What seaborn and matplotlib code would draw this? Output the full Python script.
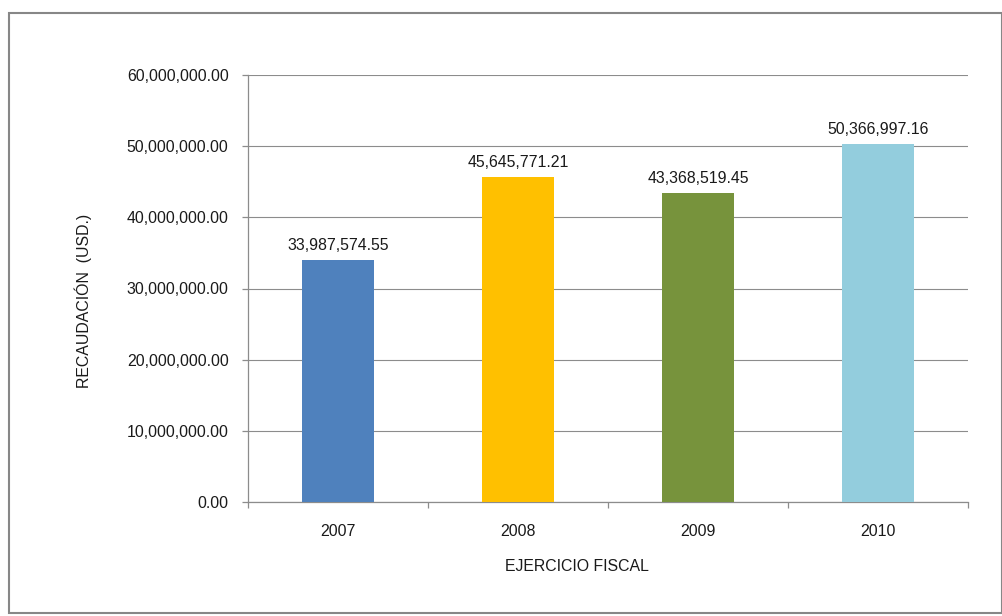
import matplotlib
matplotlib.use("Agg")
import matplotlib.pyplot as plt
from matplotlib.patches import Rectangle
from matplotlib.ticker import FuncFormatter, FixedLocator
import pandas as pd
import seaborn as sns

# Recaudación anual por ejercicio fiscal (USD)
years = ["2007", "2008", "2009", "2010"]
amounts = [33987574.55, 45645771.21, 43368519.45, 50366997.16]
bar_colors = ["#4F81BD", "#FFC000", "#77933C", "#93CDDD"]
y_ticks = [0, 10e6, 20e6, 30e6, 40e6, 50e6, 60e6]

df = pd.DataFrame({"anio": years, "monto": amounts})

sns.set_theme(style="white")
plt.rcParams["font.family"] = ["Liberation Sans", "DejaVu Sans"]
text_color = "#1a1a1a"
line_color = "#8c8c8c"
fs = 11.4

fig = plt.figure(figsize=(10.03, 6.16), dpi=100)
fig.patch.set_facecolor("white")

# outer chart frame
fig.patches.append(Rectangle((9 / 1003, 1 - 613 / 616), (1002 - 9) / 1003, (613 - 13) / 616,
                             transform=fig.transFigure, fill=False,
                             edgecolor="#878787", linewidth=1.5, zorder=0))

ax = fig.add_axes([248 / 1003, 1 - 502 / 616, 720 / 1003, 427 / 616])

sns.barplot(data=df, x="anio", y="monto", hue="anio", palette=bar_colors,
            width=0.4, legend=False, saturation=1, linewidth=0, ax=ax, zorder=3)

ax.set_ylim(0, 60e6)
ax.set_xlim(-0.5, 3.5)
ax.yaxis.set_major_locator(FixedLocator(y_ticks))
ax.yaxis.set_major_formatter(FuncFormatter(lambda v, p: f"{v:,.2f}"))
ax.grid(axis="y", color=line_color, linewidth=0.8, zorder=0)
ax.grid(axis="x", visible=False)

for side in ["top", "right"]:
    ax.spines[side].set_visible(False)
for side in ["left", "bottom"]:
    ax.spines[side].set_color(line_color)
    ax.spines[side].set_linewidth(0.9)

# tick marks sit on category boundaries; labels stay centred under the bars
ax.set_xticks([-0.5, 0.5, 1.5, 2.5, 3.5], minor=True)
ax.tick_params(axis="x", which="minor", length=4, width=0.9, color=line_color, bottom=True)
ax.tick_params(axis="x", which="major", length=0, pad=16, labelsize=fs, labelcolor=text_color)
ax.tick_params(axis="y", which="major", length=4.5, width=0.9, color=line_color, left=True,
               pad=9.5, labelsize=fs, labelcolor=text_color)

for container in ax.containers:
    ax.bar_label(container, labels=[f"{v:,.2f}" for v in container.datavalues],
                 padding=5, fontsize=fs, color=text_color)

ax.set_xlabel("EJERCICIO FISCAL", fontsize=fs, color=text_color)
ax.set_ylabel("RECAUDACIÓN  (USD.)", fontsize=fs, color=text_color)
ax.xaxis.set_label_coords(0.457, -0.152)
ax.xaxis.label.set_va("center")
ax.yaxis.set_label_coords(-0.229, 0.471)
ax.yaxis.label.set_va("center")

fig.savefig("out.png", dpi=100, facecolor="white")
